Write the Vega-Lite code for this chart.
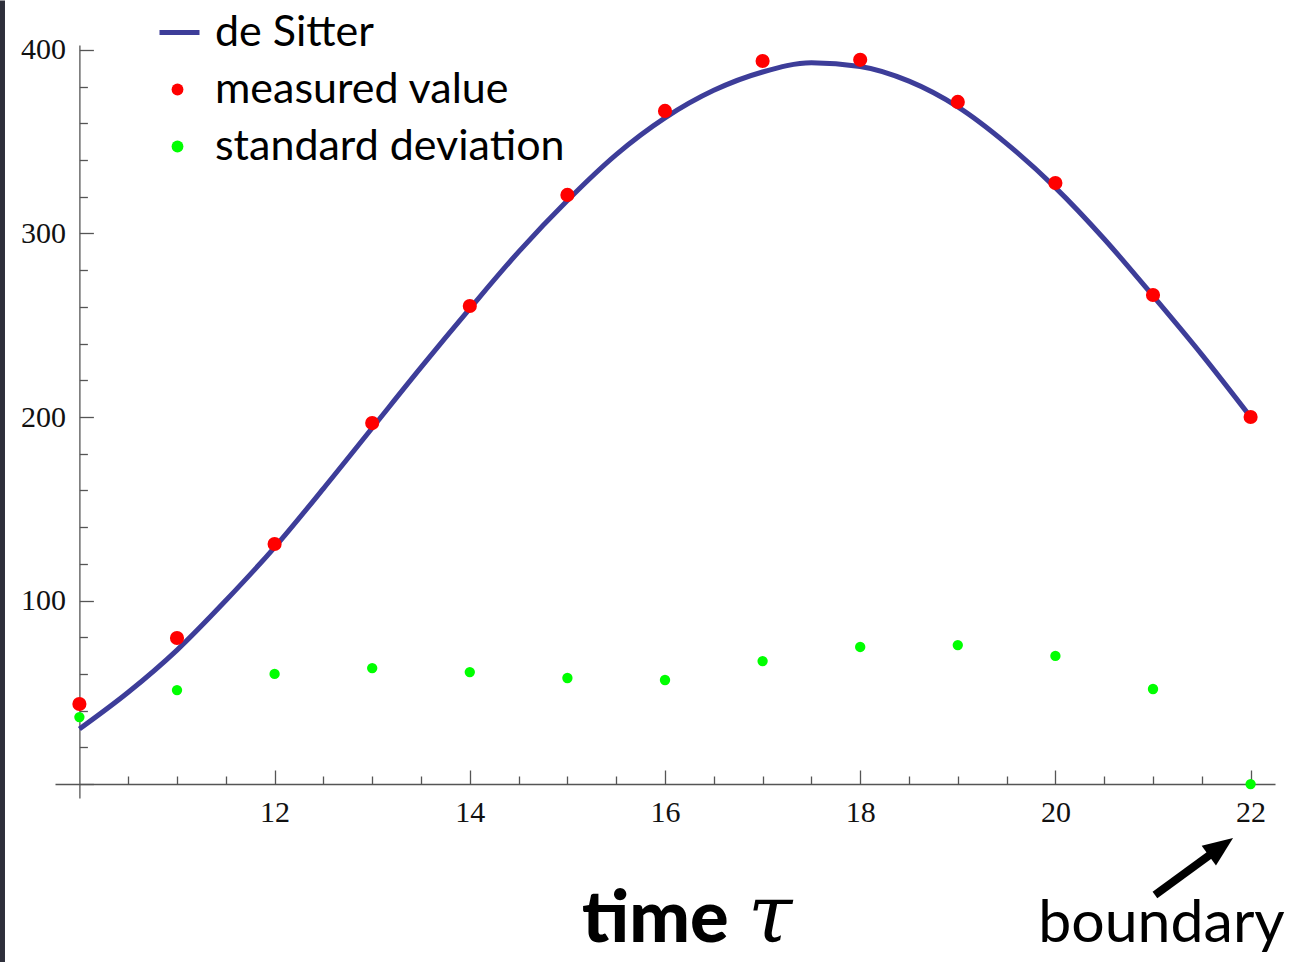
{
  "$schema": "https://vega.github.io/schema/vega-lite/v6.json",
  "width": 1220,
  "height": 753,
  "autosize": "none",
  "padding": {"left": 55, "top": 45, "right": 20, "bottom": 164},
  "background": "white",
  "config": {"view": {"stroke": null}},
  "datasets": {
    "curve": [
      {"t": 10, "v": 30, "series": "de Sitter"},
      {"t": 10.5, "v": 50, "series": "de Sitter"},
      {"t": 11, "v": 73, "series": "de Sitter"},
      {"t": 11.5, "v": 100, "series": "de Sitter"},
      {"t": 12, "v": 129, "series": "de Sitter"},
      {"t": 12.5, "v": 161, "series": "de Sitter"},
      {"t": 13, "v": 194, "series": "de Sitter"},
      {"t": 13.5, "v": 227, "series": "de Sitter"},
      {"t": 14, "v": 259, "series": "de Sitter"},
      {"t": 14.5, "v": 290, "series": "de Sitter"},
      {"t": 15, "v": 318, "series": "de Sitter"},
      {"t": 15.5, "v": 343, "series": "de Sitter"},
      {"t": 16, "v": 363, "series": "de Sitter"},
      {"t": 16.5, "v": 378, "series": "de Sitter"},
      {"t": 17, "v": 388, "series": "de Sitter"},
      {"t": 17.5, "v": 393, "series": "de Sitter"},
      {"t": 18, "v": 391, "series": "de Sitter"},
      {"t": 18.5, "v": 383, "series": "de Sitter"},
      {"t": 19, "v": 369, "series": "de Sitter"},
      {"t": 19.5, "v": 349, "series": "de Sitter"},
      {"t": 20, "v": 325, "series": "de Sitter"},
      {"t": 20.5, "v": 297, "series": "de Sitter"},
      {"t": 21, "v": 266, "series": "de Sitter"},
      {"t": 21.5, "v": 234, "series": "de Sitter"},
      {"t": 22, "v": 200, "series": "de Sitter"}
    ],
    "points": [
      {"t": 10, "v": 43.6, "series": "measured value"},
      {"t": 11, "v": 79.6, "series": "measured value"},
      {"t": 12, "v": 130.8, "series": "measured value"},
      {"t": 13, "v": 196.7, "series": "measured value"},
      {"t": 14, "v": 260.5, "series": "measured value"},
      {"t": 15, "v": 321, "series": "measured value"},
      {"t": 16, "v": 366.8, "series": "measured value"},
      {"t": 17, "v": 394, "series": "measured value"},
      {"t": 18, "v": 394.6, "series": "measured value"},
      {"t": 19, "v": 371.7, "series": "measured value"},
      {"t": 20, "v": 327.5, "series": "measured value"},
      {"t": 21, "v": 266.5, "series": "measured value"},
      {"t": 22, "v": 200, "series": "measured value"},
      {"t": 10, "v": 36.5, "series": "standard deviation"},
      {"t": 11, "v": 51.2, "series": "standard deviation"},
      {"t": 12, "v": 60, "series": "standard deviation"},
      {"t": 13, "v": 63.2, "series": "standard deviation"},
      {"t": 14, "v": 61, "series": "standard deviation"},
      {"t": 15, "v": 57.8, "series": "standard deviation"},
      {"t": 16, "v": 56.7, "series": "standard deviation"},
      {"t": 17, "v": 67, "series": "standard deviation"},
      {"t": 18, "v": 74.7, "series": "standard deviation"},
      {"t": 19, "v": 75.7, "series": "standard deviation"},
      {"t": 20, "v": 69.8, "series": "standard deviation"},
      {"t": 21, "v": 51.8, "series": "standard deviation"},
      {"t": 22, "v": 0, "series": "standard deviation"}
    ]
  },
  "layer": [
    {
      "data": {"name": "curve"},
      "mark": {"type": "line", "interpolate": "monotone", "strokeWidth": 5},
      "encoding": {
        "x": {
          "field": "t", "type": "quantitative", "title": null,
          "scale": {"domain": [9.75, 22.25], "nice": false, "zero": false},
          "axis": {
            "orient": "bottom", "offset": -14, "title": null, "grid": false, "tickCount": 200,
            "values": [10.5, 11, 11.5, 12, 12.5, 13, 13.5, 14, 14.5, 15, 15.5, 16, 16.5, 17, 17.5, 18, 18.5, 19, 19.5, 20, 20.5, 21, 21.5, 22],
            "labelExpr": "datum.value % 2 === 0 ? '' + datum.value : ''",
            "tickSize": {"condition": {"test": "datum.value % 2 === 0", "value": -14}, "value": -8},
            "tickColor": "#555555", "tickWidth": 1.3, "domainColor": "#555555", "domainWidth": 1.3,
            "labelFont": "Liberation Serif", "labelFontSize": 30, "labelColor": "#111111",
            "labelPadding": 27, "labelFlush": false, "labelOverlap": false
          }
        },
        "y": {
          "field": "v", "type": "quantitative", "title": null,
          "scale": {"domain": [-7.6, 402.7], "nice": false, "zero": false},
          "axis": {
            "orient": "left", "offset": -24.4, "title": null, "grid": false, "tickCount": 200,
            "values": [0, 20, 40, 60, 80, 100, 120, 140, 160, 180, 200, 220, 240, 260, 280, 300, 320, 340, 360, 380, 400],
            "labelExpr": "datum.value % 100 === 0 && datum.value > 0 ? '' + datum.value : ''",
            "tickSize": {"condition": {"test": "datum.value % 100 === 0", "value": -14}, "value": -8},
            "tickColor": "#555555", "tickWidth": 1.3, "domainColor": "#555555", "domainWidth": 1.3,
            "labelFont": "Liberation Serif", "labelFontSize": 30, "labelColor": "#111111",
            "labelPadding": 28, "labelFlush": false, "labelOverlap": false
          }
        },
        "stroke": {
          "field": "series", "type": "nominal",
          "scale": {"domain": ["de Sitter"], "range": ["#3d3d99"]},
          "legend": {
            "orient": "none", "legendX": 102, "legendY": -35, "title": null, "padding": 0,
            "symbolType": "stroke", "symbolSize": 1600, "symbolStrokeWidth": 5,
            "labelFont": "Lato", "labelFontSize": 43, "labelColor": "#000000", "labelOffset": 13, "labelLimit": 600
          }
        }
      }
    },
    {
      "data": {"name": "points"},
      "encoding": {
        "x": {
          "field": "t", "type": "quantitative", "title": null,
          "scale": {"domain": [9.75, 22.25], "nice": false, "zero": false},
          "axis": {
            "orient": "bottom", "offset": -14, "title": null, "grid": false, "tickCount": 200,
            "values": [10.5, 11, 11.5, 12, 12.5, 13, 13.5, 14, 14.5, 15, 15.5, 16, 16.5, 17, 17.5, 18, 18.5, 19, 19.5, 20, 20.5, 21, 21.5, 22],
            "labelExpr": "datum.value % 2 === 0 ? '' + datum.value : ''",
            "tickSize": {"condition": {"test": "datum.value % 2 === 0", "value": -14}, "value": -8},
            "tickColor": "#555555", "tickWidth": 1.3, "domainColor": "#555555", "domainWidth": 1.3,
            "labelFont": "Liberation Serif", "labelFontSize": 30, "labelColor": "#111111",
            "labelPadding": 27, "labelFlush": false, "labelOverlap": false
          }
        },
        "y": {
          "field": "v", "type": "quantitative", "title": null,
          "scale": {"domain": [-7.6, 402.7], "nice": false, "zero": false},
          "axis": {
            "orient": "left", "offset": -24.4, "title": null, "grid": false, "tickCount": 200,
            "values": [0, 20, 40, 60, 80, 100, 120, 140, 160, 180, 200, 220, 240, 260, 280, 300, 320, 340, 360, 380, 400],
            "labelExpr": "datum.value % 100 === 0 && datum.value > 0 ? '' + datum.value : ''",
            "tickSize": {"condition": {"test": "datum.value % 100 === 0", "value": -14}, "value": -8},
            "tickColor": "#555555", "tickWidth": 1.3, "domainColor": "#555555", "domainWidth": 1.3,
            "labelFont": "Liberation Serif", "labelFontSize": 30, "labelColor": "#111111",
            "labelPadding": 28, "labelFlush": false, "labelOverlap": false
          }
        },
        "fill": {
          "field": "series", "type": "nominal",
          "scale": {"domain": ["measured value", "standard deviation"], "range": ["#ff0000", "#00ff00"]},
          "legend": {
            "orient": "none", "legendX": 101, "legendY": 23, "title": null, "padding": 0,
            "symbolType": "circle", "symbolSize": 140, "symbolStrokeWidth": 0, "symbolOpacity": 1,
            "rowPadding": 13,
            "labelFont": "Lato", "labelFontSize": 43, "labelColor": "#000000", "labelOffset": 16, "labelLimit": 600
          }
        }
      },
      "layer": [
        {
          "transform": [{"filter": "datum.series === 'measured value'"}],
          "mark": {"type": "circle", "size": 200, "opacity": 1}
        },
        {
          "transform": [{"filter": "datum.series === 'standard deviation'"}],
          "mark": {"type": "circle", "size": 107, "opacity": 1}
        }
      ]
    },
    {
      "data": {"values": [{"k": 1}]},
      "mark": {"type": "rule", "color": "#2e2f3b", "strokeWidth": 5},
      "encoding": {
        "x": {"datum": 9.212, "type": "quantitative"},
        "y": {"datum": 427, "type": "quantitative"},
        "y2": {"datum": -97}
      }
    },
    {
      "data": {"values": [{"k": 1}]},
      "mark": {"type": "rule", "color": "#000000", "strokeWidth": 8},
      "encoding": {
        "x": {"datum": 21.02, "type": "quantitative"},
        "y": {"datum": -60.5, "type": "quantitative"},
        "x2": {"datum": 21.665},
        "y2": {"datum": -35.4}
      }
    },
    {
      "data": {"values": [{"k": 1}]},
      "mark": {"type": "point", "shape": "M0,-1L0.65,0.6L-0.65,0.6Z", "size": 1400, "filled": true, "color": "#000000", "opacity": 1, "angle": 54},
      "encoding": {
        "x": {"datum": 21.665, "type": "quantitative"},
        "y": {"datum": -35.4, "type": "quantitative"}
      }
    },
    {
      "data": {"values": [{"k": 1}]},
      "mark": {"type": "text", "text": "time", "font": "Lato", "fontWeight": 900, "fontSize": 72, "align": "center", "baseline": "alphabetic", "color": "#000000"},
      "encoding": {
        "x": {"datum": 15.90, "type": "quantitative"},
        "y": {"datum": -86.1, "type": "quantitative"}
      }
    },
    {
      "data": {"values": [{"k": 1}]},
      "mark": {"type": "text", "text": "τ", "font": "DejaVu Serif", "fontStyle": "italic", "fontSize": 80, "align": "center", "baseline": "alphabetic", "color": "#000000"},
      "encoding": {
        "x": {"datum": 17.076, "type": "quantitative"},
        "y": {"datum": -86.1, "type": "quantitative"}
      }
    },
    {
      "data": {"values": [{"k": 1}]},
      "mark": {"type": "text", "text": "boundary", "font": "Lato", "fontSize": 59, "align": "center", "baseline": "alphabetic", "color": "#000000"},
      "encoding": {
        "x": {"datum": 21.087, "type": "quantitative"},
        "y": {"datum": -86.1, "type": "quantitative"}
      }
    }
  ]
}
